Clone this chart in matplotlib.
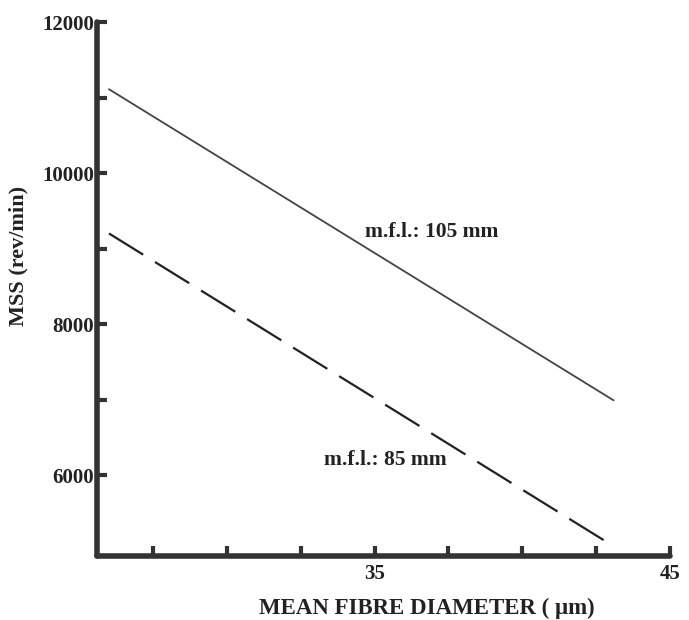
import matplotlib.pyplot as plt
import numpy as np

# values
diam_105 = [26.0, 43.1]
mss_105 = [11110, 6990]
diam_85 = [26.0, 42.8]
mss_85 = [9200, 5130]

x_ticks = [27.5, 30, 32.5, 35, 37.5, 40, 42.5, 45]
x_labels = ['', '', '', '35', '', '', '', '45']
y_ticks = [6000, 7000, 8000, 9000, 10000, 11000, 12000]
y_labels = ['6000', '', '8000', '', '10000', '', '12000']

plt.rcParams['font.family'] = ['Liberation Serif', 'DejaVu Serif']
plt.rcParams['font.weight'] = 'bold'
plt.rcParams['lines.scale_dashes'] = False

ink = '#333333'
txt = '#222222'
fig = plt.figure(figsize=(6.89, 6.20), dpi=100)
ax = fig.add_axes([0.141, 0.103, 0.831, 0.8615])

ax.plot(diam_105, mss_105, color='#444444', lw=1.3, solid_capstyle='round')
ax.plot(diam_85, mss_85, color='#222222', lw=1.6, linestyle=(0, (29, 10)))

ax.text(34.66, 9220, 'm.f.l.: 105 mm', fontsize=15.5, fontweight='bold',
        color=txt, va='center', ha='left')
ax.text(33.3, 6200, 'm.f.l.: 85 mm', fontsize=15.5, fontweight='bold',
        color=txt, va='center', ha='left')

ax.set_xlim(25.6, 45)
ax.set_ylim(4927, 12000)

for s in ['top', 'right']:
    ax.spines[s].set_visible(False)
for s in ['left', 'bottom']:
    ax.spines[s].set_linewidth(4)
    ax.spines[s].set_color(ink)
    ax.spines[s].set_capstyle('round')

ax.set_xticks(x_ticks)
ax.set_xticklabels(x_labels)
ax.set_yticks(y_ticks)
ax.set_yticklabels(y_labels)
ax.tick_params(direction='in', length=7, width=3, color=ink,
               labelsize=15, labelcolor=txt, pad=2)
ax.tick_params(axis='x', pad=6)
for lbl in ax.get_xticklabels() + ax.get_yticklabels():
    lbl.set_fontweight('bold')

ax.set_xlabel('MEAN FIBRE DIAMETER ( μm)', fontsize=16.5,
              fontweight='bold', color=txt)
ax.set_ylabel('MSS (rev/min)', fontsize=16, fontweight='bold', color=txt)
ax.xaxis.set_label_coords(0.576, -0.078)
ax.yaxis.set_label_coords(-0.12, 0.562)

fig.savefig('out.png', dpi=100)
